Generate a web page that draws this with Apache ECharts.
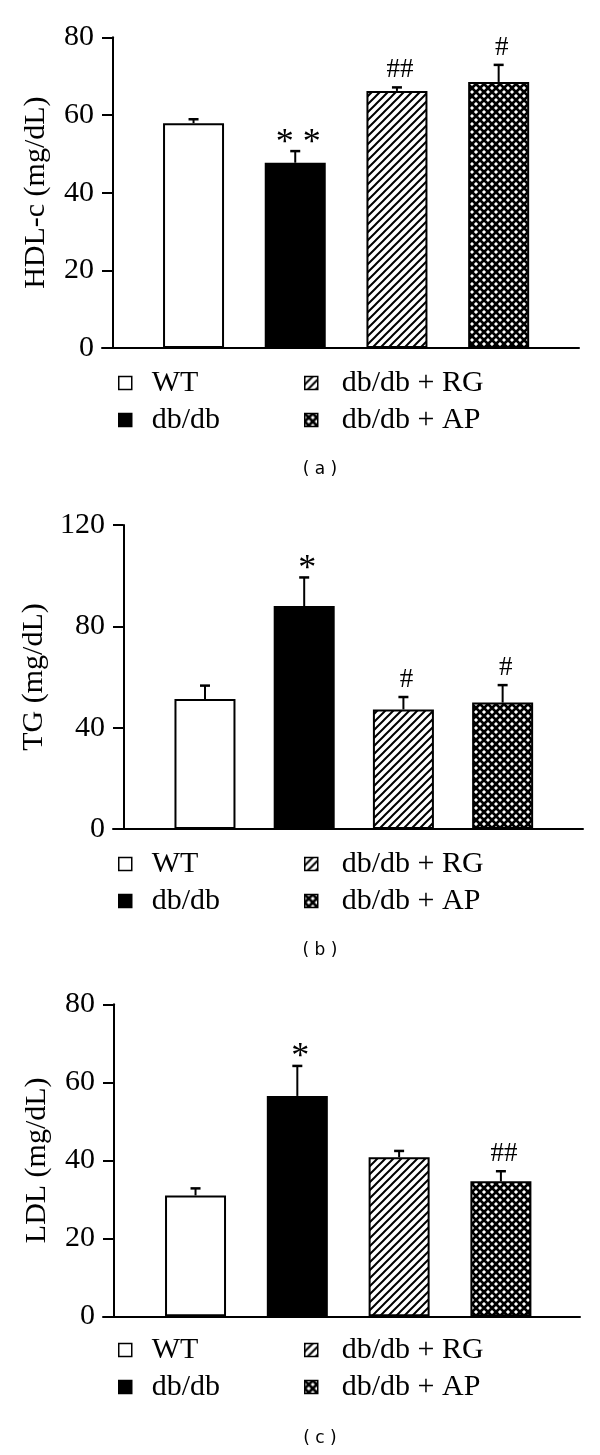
<!DOCTYPE html>
<html>
<head>
<meta charset="utf-8">
<script src="https://cdn.jsdelivr.net/npm/echarts@6/dist/echarts.min.js"></script>
<style>
html, body { margin: 0; padding: 0; background: #fff; }
#chart { width: 600px; height: 1455px; }
</style>
</head>
<body>
<div id="chart"></div>
<script>
// groups (one bar each) and their slot on the x axis
const groups = ['WT', 'db/db', 'db/db + RG', 'db/db + AP']
const groupPos = [1, 2, 3, 4]

// (a) HDL-c
const hdlMean = [57.9, 47.7, 66.2, 68.5]
const hdlErr = [1.0, 3.0, 0.9, 4.4]
const hdlMarks = ['', '* *', '##', '#']
const hdlTicks = [0, 80, 20]   // min, max, interval

// (b) TG
const tgMean = [51.3, 88.0, 47.2, 49.9]
const tgErr = [5.3, 11.3, 4.9, 6.9]
const tgMarks = ['', '*', '#', '#']
const tgTicks = [0, 120, 40]

// (c) LDL
const ldlMean = [31.0, 56.5, 40.8, 34.6]
const ldlErr = [1.8, 7.7, 1.6, 2.6]
const ldlMarks = ['', '*', '', '##']
const ldlTicks = [0, 80, 20]

const SERIF = '"Liberation Serif", "Times New Roman", serif'

function makePattern(kind) {
    const c = document.createElement('canvas')
    c.width = 8
    c.height = 8
    const ctx = c.getContext('2d')
    ctx.fillStyle = '#fff'
    ctx.fillRect(0, 0, 8, 8)
    ctx.strokeStyle = '#000'
    ctx.beginPath()
    if (kind === 'stripe') {
        ctx.lineWidth = 2
        ctx.moveTo(-1, 9); ctx.lineTo(9, -1)
        ctx.moveTo(-3, 3); ctx.lineTo(3, -3)
        ctx.moveTo(5, 11); ctx.lineTo(11, 5)
    } else {
        ctx.lineWidth = 2.7
        ctx.moveTo(-1, 9); ctx.lineTo(9, -1)
        ctx.moveTo(-3, 3); ctx.lineTo(3, -3)
        ctx.moveTo(5, 11); ctx.lineTo(11, 5)
        ctx.moveTo(-1, -1); ctx.lineTo(9, 9)
        ctx.moveTo(-3, 5); ctx.lineTo(3, 11)
        ctx.moveTo(5, -3); ctx.lineTo(11, 3)
    }
    ctx.stroke()
    return { image: c, repeat: 'repeat' }
}

const fills = ['#fff', '#000', makePattern('stripe'), makePattern('cross')]

// panel layout in pixels
const panels = [
    { mean: hdlMean, err: hdlErr, marks: hdlMarks, ticks: hdlTicks, name: 'HDL-c (mg/dL)',
      left: 102, top: 37.3, width: 477, height: 310.7, tick: 11, xMin: 0.1, xMax: 4.79, nameGap: 62,
      legendTop: 368, label: '( a )', labelY: 470 },
    { mean: tgMean, err: tgErr, marks: tgMarks, ticks: tgTicks, name: 'TG (mg/dL)',
      left: 113, top: 525, width: 470, height: 304, tick: 10.5, xMin: 0.073, xMax: 4.81, nameGap: 73,
      legendTop: 849, label: '( b )', labelY: 951 },
    { mean: ldlMean, err: ldlErr, marks: ldlMarks, ticks: ldlTicks, name: 'LDL (mg/dL)',
      left: 103, top: 1004.3, width: 477, height: 312, tick: 11, xMin: 0.091, xMax: 4.777, nameGap: 62,
      legendTop: 1335, label: '( c )', labelY: 1439 }
]

const grid = [], xAxis = [], yAxis = [], series = [], legend = [], graphic = []

panels.forEach((p, gi) => {
    grid.push({ left: p.left, top: p.top, width: p.width, height: p.height, containLabel: false })
    xAxis.push({
        type: 'value', gridIndex: gi, min: p.xMin, max: p.xMax,
        axisLine: { show: true, lineStyle: { color: '#000', width: 2 } },
        axisTick: { show: false },
        axisLabel: { show: false },
        splitLine: { show: false }
    })
    yAxis.push({
        type: 'value', gridIndex: gi, min: p.ticks[0], max: p.ticks[1], interval: p.ticks[2],
        offset: -p.tick,
        name: p.name,
        nameLocation: 'middle',
        nameGap: p.nameGap,
        nameTextStyle: { fontFamily: SERIF, fontSize: 30, color: '#000' },
        axisLine: { show: true, onZero: false, lineStyle: { color: '#000', width: 2 } },
        axisTick: { show: true, length: p.tick, lineStyle: { color: '#000', width: 2 } },
        axisLabel: { fontFamily: SERIF, fontSize: 30, color: '#000', margin: p.tick + 8 },
        splitLine: { show: false }
    })

    groups.forEach((g, i) => {
        series.push({
            type: 'bar', name: g, xAxisIndex: gi, yAxisIndex: gi,
            barWidth: 61, barGap: '-100%',
            data: [[groupPos[i], p.mean[i]]],
            itemStyle: { color: fills[i], borderColor: '#000', borderWidth: 2 },
            animation: false
        })
    })

    series.push({
        type: 'custom', xAxisIndex: gi, yAxisIndex: gi, z: 5, silent: true, animation: false,
        data: groupPos.map((x, i) => [x, p.mean[i], p.mean[i] + p.err[i]]),
        renderItem: (params, api) => {
            const base = api.coord([api.value(0), api.value(1)])
            const top = api.coord([api.value(0), api.value(2)])
            const mark = p.marks[params.dataIndex]
            const children = [
                { type: 'line', shape: { x1: base[0], y1: base[1], x2: top[0], y2: top[1] },
                  style: { stroke: '#000', lineWidth: 2 } },
                { type: 'line', shape: { x1: top[0] - 5, y1: top[1], x2: top[0] + 5, y2: top[1] },
                  style: { stroke: '#000', lineWidth: 2.5 } }
            ]
            if (mark) {
                const star = mark.indexOf('*') >= 0
                children.push({
                    type: 'text', x: top[0] + 3, y: top[1] - (star ? 8 : 17),
                    style: { text: mark, fill: '#000', align: 'center', verticalAlign: 'middle',
                             font: (star ? '36px ' : '27px ') + SERIF }
                })
            }
            return { type: 'group', children }
        }
    })

    const legendBase = {
        orient: 'vertical', top: p.legendTop, icon: 'rect', itemWidth: 13, itemHeight: 13,
        itemGap: 7, padding: 0, selectedMode: false,
        itemStyle: { borderColor: '#000', borderWidth: 1.5 },
        textStyle: { fontFamily: SERIF, fontSize: 30, color: '#000', lineHeight: 30 }
    }
    legend.push(Object.assign({}, legendBase, {
        left: 118, data: groups.slice(0, 2),
        textStyle: Object.assign({}, legendBase.textStyle, { padding: [0, 0, 0, 15] })
    }))
    legend.push(Object.assign({}, legendBase, {
        left: 304, data: groups.slice(2, 4),
        textStyle: Object.assign({}, legendBase.textStyle, { padding: [0, 0, 0, 19] })
    }))

    graphic.push({
        type: 'text', x: 320, y: p.labelY,
        style: { text: p.label, fill: '#000', align: 'center', verticalAlign: 'middle',
                 font: '17px "DejaVu Sans", sans-serif' }
    })
})

const chart = echarts.init(document.getElementById('chart'))
chart.setOption({
    animation: false,
    backgroundColor: '#fff',
    grid, xAxis, yAxis, series, legend, graphic
})
</script>
</body>
</html>
